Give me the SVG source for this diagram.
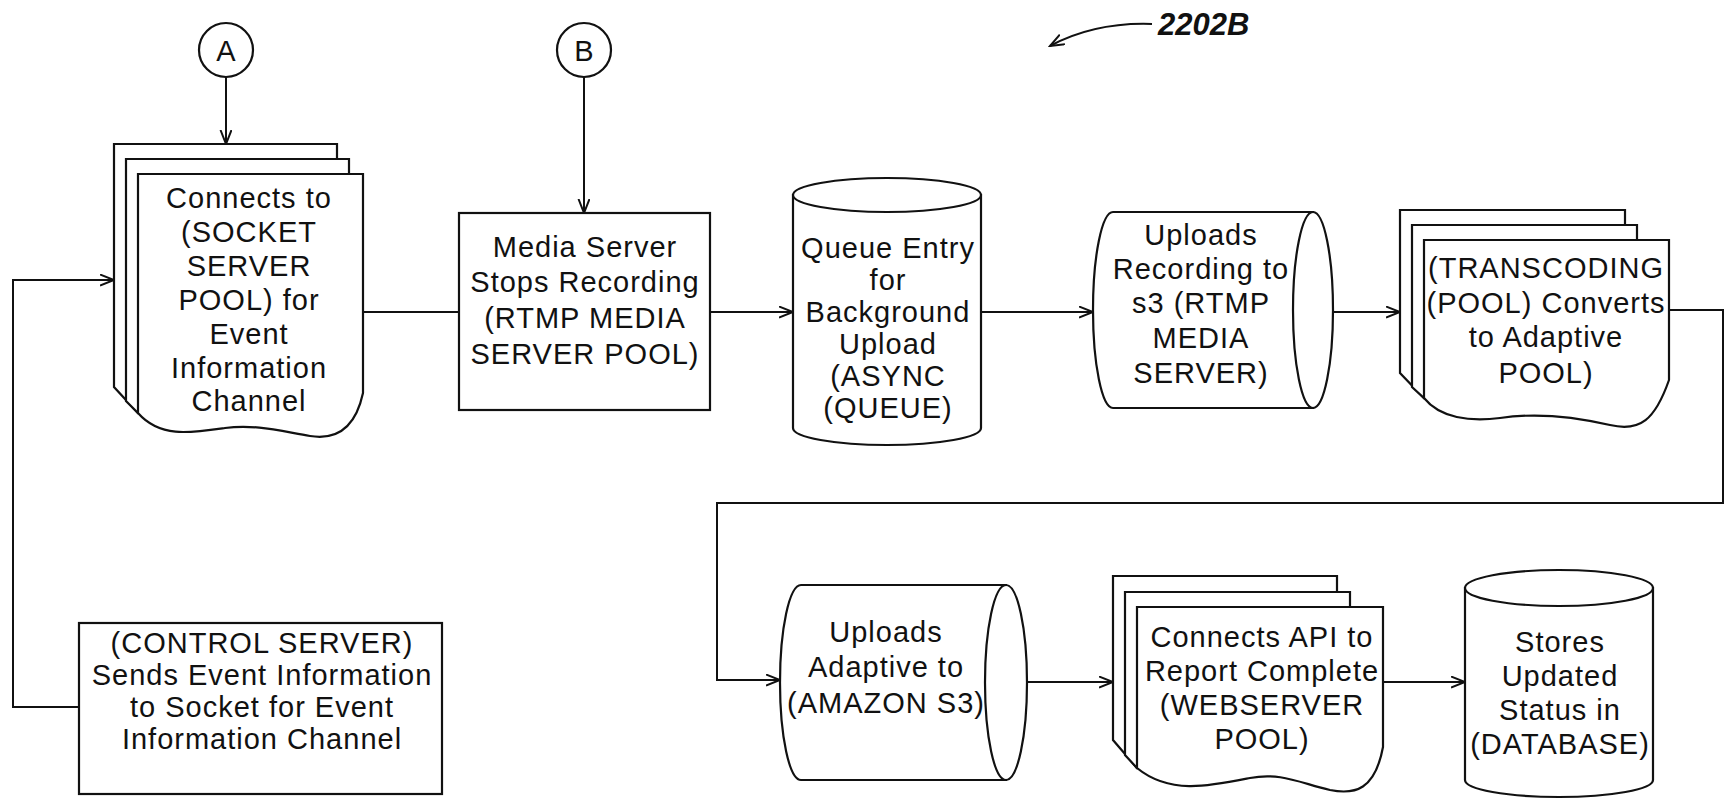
<svg xmlns="http://www.w3.org/2000/svg" width="1733" height="804" viewBox="0 0 1733 804">
<defs>
<marker id="arr" markerUnits="userSpaceOnUse" markerWidth="16" markerHeight="14" refX="14" refY="6" orient="auto">
<path d="M0,0.5 L14,6 L0,11.5" fill="none" stroke="#111" stroke-width="2"/>
</marker>
<style>
.s{fill:#fff;stroke:#111;stroke-width:2.2}
.c{fill:none;stroke:#111;stroke-width:2}
.t{font-family:"Liberation Sans",Arial,sans-serif;font-size:29px;letter-spacing:1px;text-anchor:middle;fill:#111}
.lbl{font-family:"Liberation Sans",Arial,sans-serif;font-size:31px;font-weight:bold;font-style:italic;fill:#111}
</style>
</defs>
<rect width="1733" height="804" fill="#fff"/>

<g id="connectors">
<line class="c" x1="226" y1="77" x2="226" y2="144" marker-end="url(#arr)"/>
<line class="c" x1="584" y1="77" x2="584" y2="213" marker-end="url(#arr)"/>
<line class="c" x1="363" y1="312" x2="459" y2="312"/>
<line class="c" x1="710" y1="312" x2="793" y2="312" marker-end="url(#arr)"/>
<line class="c" x1="981" y1="312" x2="1093" y2="312" marker-end="url(#arr)"/>
<line class="c" x1="1333" y1="312" x2="1400" y2="312" marker-end="url(#arr)"/>
<path class="c" d="M1669 310 H1723 V503 H717 V680 H780" marker-end="url(#arr)"/>
<line class="c" x1="1028" y1="682" x2="1113" y2="682" marker-end="url(#arr)"/>
<line class="c" x1="1383" y1="682" x2="1465" y2="682" marker-end="url(#arr)"/>
<path class="c" d="M79 707 H13 V280 H114" marker-end="url(#arr)"/>
<path class="c" d="M1152 24 Q1095 22 1050 46" marker-end="url(#arr)"/>
</g>

<g id="ref-label">
<text class="lbl" x="1158" y="35">2202B</text>
</g>

<g id="conn-A">
<circle class="s" cx="226" cy="50" r="27"/>
<text class="t" x="226" y="61" style="letter-spacing:0">A</text>
</g>

<g id="conn-B">
<circle class="s" cx="584" cy="50" r="27"/>
<text class="t" x="584" y="61" style="letter-spacing:0">B</text>
</g>

<g id="socket-pool">
<path class="s" d="M114 144 H337 V380 L138 413 L114 387 Z"/>
<path class="s" d="M126 159 H349 V386 L138 413 L126 401 Z"/>
<path class="s" d="M138 174 H363 V393 C355 430 335 440 310 436 C280 431 255 424 225 428 C190 433 160 438 138 413 Z"/>
<text class="t" x="249" y="208">Connects to</text>
<text class="t" x="249" y="242">(SOCKET</text>
<text class="t" x="249" y="276">SERVER</text>
<text class="t" x="249" y="310">POOL) for</text>
<text class="t" x="249" y="344">Event</text>
<text class="t" x="249" y="378">Information</text>
<text class="t" x="249" y="411">Channel</text>
</g>

<g id="media-server">
<rect class="s" x="459" y="213" width="251" height="197"/>
<text class="t" x="585" y="257">Media Server</text>
<text class="t" x="585" y="292">Stops Recording</text>
<text class="t" x="585" y="328">(RTMP MEDIA</text>
<text class="t" x="585" y="364">SERVER POOL)</text>
</g>

<g id="async-queue">
<path class="s" d="M793 195 V428 A94 17 0 0 0 981 428 V195 Z"/>
<ellipse class="s" cx="887" cy="195" rx="94" ry="17"/>
<text class="t" x="888" y="258">Queue Entry</text>
<text class="t" x="888" y="290">for</text>
<text class="t" x="888" y="322">Background</text>
<text class="t" x="888" y="354">Upload</text>
<text class="t" x="888" y="386">(ASYNC</text>
<text class="t" x="888" y="418">(QUEUE)</text>
</g>

<g id="uploads-recording">
<path class="s" d="M1313 212 H1113 A20 98 0 0 0 1113 408 H1313 Z"/>
<ellipse class="s" cx="1313" cy="310" rx="20" ry="98"/>
<text class="t" x="1201" y="245">Uploads</text>
<text class="t" x="1201" y="279">Recording to</text>
<text class="t" x="1201" y="313">s3 (RTMP</text>
<text class="t" x="1201" y="348">MEDIA</text>
<text class="t" x="1201" y="383">SERVER)</text>
</g>

<g id="transcoding-pool">
<path class="s" d="M1400 210 H1625 V370 L1424 398 L1400 373 Z"/>
<path class="s" d="M1412 225 H1637 V375 L1424 398 L1412 387 Z"/>
<path class="s" d="M1424 240 H1669 V380 C1655 420 1640 432 1610 425 C1580 418 1540 412 1500 418 C1470 422 1440 418 1424 398 Z"/>
<text class="t" x="1546" y="278">(TRANSCODING</text>
<text class="t" x="1546" y="313">(POOL) Converts</text>
<text class="t" x="1546" y="347">to Adaptive</text>
<text class="t" x="1546" y="383">POOL)</text>
</g>

<g id="control-server">
<rect class="s" x="79" y="623" width="363" height="171"/>
<text class="t" x="262" y="653">(CONTROL SERVER)</text>
<text class="t" x="262" y="685">Sends Event Information</text>
<text class="t" x="262" y="717">to Socket for Event</text>
<text class="t" x="262" y="749">Information Channel</text>
</g>

<g id="amazon-s3">
<path class="s" d="M1006 585 H801 A21 97.5 0 0 0 801 780 H1006 Z"/>
<ellipse class="s" cx="1006" cy="682.5" rx="21" ry="97.5"/>
<text class="t" x="886" y="642">Uploads</text>
<text class="t" x="886" y="677">Adaptive to</text>
<text class="t" x="886" y="713">(AMAZON S3)</text>
</g>

<g id="webserver-pool">
<path class="s" d="M1113 576 H1337 V740 L1137 768 L1113 740 Z"/>
<path class="s" d="M1125 592 H1350 V745 L1137 768 L1125 755 Z"/>
<path class="s" d="M1137 607 H1383 V747 C1375 790 1355 795 1330 790 C1300 783 1280 772 1250 778 C1210 786 1170 795 1137 768 Z"/>
<text class="t" x="1262" y="647">Connects API to</text>
<text class="t" x="1262" y="681">Report Complete</text>
<text class="t" x="1262" y="715">(WEBSERVER</text>
<text class="t" x="1262" y="749">POOL)</text>
</g>

<g id="database">
<path class="s" d="M1465 588 V780 A94 17 0 0 0 1653 780 V588 Z"/>
<ellipse class="s" cx="1559" cy="588" rx="94" ry="18"/>
<text class="t" x="1560" y="652">Stores</text>
<text class="t" x="1560" y="686">Updated</text>
<text class="t" x="1560" y="720">Status in</text>
<text class="t" x="1560" y="754">(DATABASE)</text>
</g>
</svg>
